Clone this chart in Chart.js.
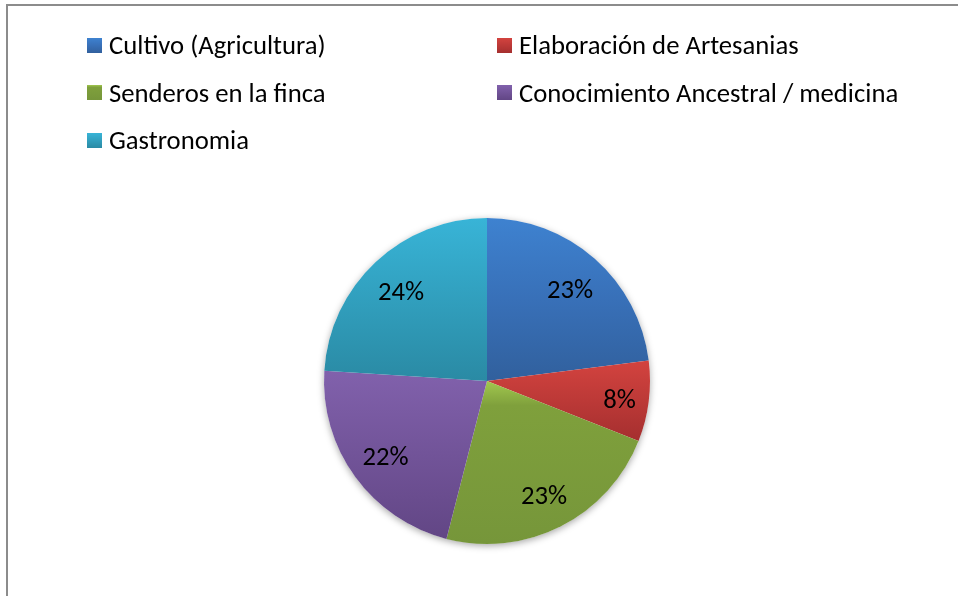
<!DOCTYPE html>
<html>
<head>
<meta charset="utf-8">
<script src="https://cdn.jsdelivr.net/npm/chart.js@4.4.0/dist/chart.umd.min.js"></script>
<style>
  html, body { margin: 0; padding: 0; background: #fff; }
  #wrap { position: relative; width: 958px; height: 596px; overflow: hidden; font-family: Carlito, Lato, sans-serif; }
  #frame { position: absolute; left: 6px; top: 4px; right: -4px; bottom: -4px;
           border-top: 2px solid #8c8c8c; border-left: 2px solid #8c8c8c; }
  canvas { position: absolute; left: 0; top: 0; }
  .item { position: absolute; display: flex; align-items: center; height: 30px;
          font-size: 26.7px; color: #000; white-space: nowrap; }
  .box { width: 15px; height: 15px; margin-right: 7px; }
</style>
</head>
<body>
<div id="wrap">
  <div id="frame"></div>
  <canvas id="grafico" width="958" height="596"></canvas>
  <div id="leyenda"></div>
</div>
<script>
// datos
const categorias = ['Cultivo (Agricultura)', 'Elaboración de Artesanias', 'Senderos en la finca',
                    'Conocimiento Ancestral / medicina', 'Gastronomia'];
const valores = [23, 8, 23, 22, 24];

// gradientes verticales por porción (arriba -> abajo)
const colores = [
  [[0, '#3e82d0'], [0.5, '#3870b8'], [1, '#31609d']],
  [[0, '#d3433f'], [1, '#a52f2f']],
  [[0, '#a2c84f'], [0.15, '#7fa03c'], [1, '#76963a']],
  [[0, '#8161ac'], [1, '#624685']],
  [[0, '#38b4d7'], [1, '#2a8aa4']]
];

const total = valores.reduce((a, b) => a + b, 0);
const FUENTE = 'Carlito, Lato, sans-serif';
const TAM = '26.7px ';

function rellenoPorcion(context) {
  const i = context.dataIndex;
  const chart = context.chart;
  const area = chart.chartArea;
  if (i === undefined || !area) return colores[i || 0][0][1];
  const cy = (area.top + area.bottom) / 2;
  const r = Math.min(area.right - area.left, area.bottom - area.top) / 2;
  const antes = valores.slice(0, i).reduce((a, b) => a + b, 0);
  const a0 = antes / total * Math.PI * 2;
  const a1 = (antes + valores[i]) / total * Math.PI * 2;
  const ys = [cy, cy - r * Math.cos(a0), cy - r * Math.cos(a1)];
  if (a0 <= 0 || a1 >= Math.PI * 2) ys.push(cy - r);
  if (a0 < Math.PI && a1 > Math.PI) ys.push(cy + r);
  const g = chart.ctx.createLinearGradient(0, Math.min(...ys), 0, Math.max(...ys));
  colores[i].forEach(([p, c]) => g.addColorStop(p, c));
  return g;
}

const sombra = {
  id: 'sombra',
  beforeDatasetsDraw(chart) {
    const arc = chart.getDatasetMeta(0).data[0];
    if (!arc) return;
    const ctx = chart.ctx;
    ctx.save();
    ctx.shadowColor = 'rgba(0,0,0,0.35)';
    ctx.shadowBlur = 7;
    ctx.shadowOffsetY = 2;
    ctx.fillStyle = '#fff';
    ctx.beginPath();
    ctx.arc(arc.x, arc.y, arc.outerRadius, 0, Math.PI * 2);
    ctx.fill();
    ctx.restore();
  }
};

const etiquetas = {
  id: 'etiquetas',
  afterDatasetsDraw(chart) {
    const ctx = chart.ctx;
    ctx.save();
    ctx.font = TAM + FUENTE;
    ctx.fillStyle = '#000';
    ctx.textAlign = 'center';
    ctx.textBaseline = 'middle';
    chart.getDatasetMeta(0).data.forEach((arc, i) => {
      const mid = (arc.startAngle + arc.endAngle) / 2;
      const f = valores[i] < 10 ? 0.82 : 0.77;
      ctx.fillText(Math.round(valores[i] / total * 100) + '%',
        arc.x + Math.cos(mid) * arc.outerRadius * f,
        arc.y + Math.sin(mid) * arc.outerRadius * f + 4);
    });
    ctx.restore();
  }
};

function dibujar() {
  new Chart(document.getElementById('grafico'), {
    type: 'pie',
    data: {
      labels: categorias,
      datasets: [{ data: valores, backgroundColor: rellenoPorcion, borderWidth: 0 }]
    },
    options: {
      responsive: false,
      animation: false,
      events: [],
      layout: { padding: { left: 324, right: 308, top: 218, bottom: 52 } },
      plugins: { legend: { display: false }, tooltip: { enabled: false } }
    },
    plugins: [sombra, etiquetas]
  });
}

// leyenda en dos columnas
const leyenda = document.getElementById('leyenda');
categorias.forEach((nombre, i) => {
  const item = document.createElement('div');
  item.className = 'item';
  item.style.left = (87 + (i % 2) * 410) + 'px';
  item.style.top = (45 + Math.floor(i / 2) * 47.5 - 15) + 'px';
  const box = document.createElement('span');
  box.className = 'box';
  box.style.background = 'linear-gradient(' +
    colores[i].map(([p, c]) => c + ' ' + (p * 100) + '%').join(', ') + ')';
  const txt = document.createElement('span');
  txt.textContent = nombre;
  item.appendChild(box);
  item.appendChild(txt);
  leyenda.appendChild(item);
});

document.fonts.load(TAM + 'Carlito').then(dibujar, dibujar);
</script>
</body>
</html>
